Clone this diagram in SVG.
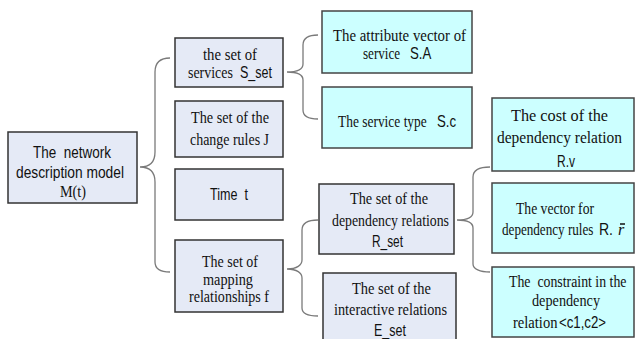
<svg xmlns="http://www.w3.org/2000/svg" width="638" height="339" viewBox="0 0 638 339">
<style>
.bg{fill:#ffffff}
.n1{fill:#e5eaf6;stroke:#333333;stroke-width:1.5}
.n2{fill:#ccffff;stroke:#444444;stroke-width:1.5}
.br{fill:none;stroke:#7a7a7a;stroke-width:1.3}
.s{font-family:"Liberation Serif","Times New Roman",serif;font-size:16px;fill:#111;white-space:pre}
.a{font-family:"Liberation Sans",Arial,sans-serif;font-size:16.5px;fill:#111;white-space:pre}
</style>
<rect class="bg" x="0" y="0" width="638" height="339"/>
<g id="connectors">
<path class="br" d="M170,58 C160,58 155,62 155,72 L155,152 C155,162 150,167 140,167 C150,167 155,172 155,182 L155,262 C155,268 160,272 170,272"/>
<path class="br" d="M318,35 C308,35 303,38 303,45 L303,64 C303,69 298,72 287,72 C298,72 303,75 303,80 L303,110 C303,116 308,119 318,119"/>
<path class="br" d="M318,220 C308,220 302,223 302,230 L302,260 C302,265 297,269 287,269 C297,269 302,273 302,278 L302,308 C302,313 308,316 318,316"/>
<path class="br" d="M490,167 C480,167 473,170 473,177 L473,212 C473,217 468,220 457,220 C468,220 473,223 473,228 L473,264 C473,269 480,272 490,272"/>
</g>
<g id="root">
<rect class="n1" x="8" y="132" width="129" height="71"/>
<text class="a" x="33" y="158" textLength="78" lengthAdjust="spacingAndGlyphs">The  network</text>
<text class="a" x="16" y="178" textLength="108" lengthAdjust="spacingAndGlyphs">description model</text>
<text class="s" x="60" y="197" textLength="26" lengthAdjust="spacingAndGlyphs">M(t)</text>
</g>
<g id="s_set">
<rect class="n1" x="175" y="38" width="108" height="49"/>
<text class="s" x="203" y="60" textLength="54" lengthAdjust="spacingAndGlyphs">the set of</text>
<text class="s" transform="translate(188,78) scale(0.87,1)">services</text>
<text class="a" transform="translate(240,78) scale(0.76,1)">S_set</text>
</g>
<g id="rules_j">
<rect class="n1" x="175" y="101" width="108" height="56"/>
<text class="s" x="191" y="123" textLength="78" lengthAdjust="spacingAndGlyphs">The set of the</text>
<text class="s" x="190" y="145" textLength="79" lengthAdjust="spacingAndGlyphs">change rules J</text>
</g>
<g id="time_t">
<rect class="n1" x="175" y="169" width="108" height="51"/>
<text class="a" x="210" y="200" textLength="38" lengthAdjust="spacingAndGlyphs">Time  t</text>
</g>
<g id="mapping_f">
<rect class="n1" x="175" y="240" width="108" height="72"/>
<text class="s" x="202" y="267" textLength="56" lengthAdjust="spacingAndGlyphs">The set of</text>
<text class="s" x="203" y="285" textLength="50" lengthAdjust="spacingAndGlyphs">mapping</text>
<text class="s" x="189" y="302" textLength="80" lengthAdjust="spacingAndGlyphs">relationships f</text>
</g>
<g id="attr_sa">
<rect class="n2" x="322" y="11" width="150" height="62"/>
<text class="s" x="333" y="41" textLength="133" lengthAdjust="spacingAndGlyphs">The attribute vector of</text>
<text class="s" transform="translate(363,59) scale(0.82,1)">service</text>
<text class="a" transform="translate(410,59) scale(0.8,1)">S.A</text>
</g>
<g id="type_sc">
<rect class="n2" x="322" y="87" width="150" height="61"/>
<text class="s" transform="translate(338,127) scale(0.84,1)">The service type</text>
<text class="a" transform="translate(437,127) scale(0.8,1)">S.c</text>
</g>
<g id="cost_rv">
<rect class="n2" x="492" y="98" width="142" height="73"/>
<text class="s" x="511" y="121" textLength="97" lengthAdjust="spacingAndGlyphs">The cost of the</text>
<text class="s" x="497" y="143" textLength="125" lengthAdjust="spacingAndGlyphs">dependency relation</text>
<text class="a" x="557" y="167" textLength="18" lengthAdjust="spacingAndGlyphs">R.v</text>
</g>
<g id="r_set">
<rect class="n1" x="319" y="184" width="135" height="70"/>
<text class="s" x="350" y="204" textLength="78" lengthAdjust="spacingAndGlyphs">The set of the</text>
<text class="s" x="332" y="226" textLength="117" lengthAdjust="spacingAndGlyphs">dependency relations</text>
<text class="a" x="372" y="247" textLength="31" lengthAdjust="spacingAndGlyphs">R_set</text>
</g>
<g id="e_set">
<rect class="n1" x="323" y="273" width="133" height="72"/>
<text class="s" x="352" y="294" textLength="79" lengthAdjust="spacingAndGlyphs">The set of the</text>
<text class="s" x="334" y="315" textLength="113" lengthAdjust="spacingAndGlyphs">interactive relations</text>
<text class="a" x="374" y="336" textLength="32" lengthAdjust="spacingAndGlyphs">E_set</text>
</g>
<g id="vector_rr">
<rect class="n2" x="492" y="183" width="142" height="70"/>
<text class="s" x="516" y="214" textLength="78" lengthAdjust="spacingAndGlyphs">The vector for</text>
<text class="s" transform="translate(502,235) scale(0.82,1)">dependency rules</text>
<text class="a" transform="translate(599,235) scale(0.85,1)">R.</text>
<text class="s" x="618" y="235" font-style="italic">r</text>
<line x1="620" y1="224" x2="625" y2="224" stroke="#111" stroke-width="1.5"/>
</g>
<g id="constraint">
<rect class="n2" x="492" y="267" width="142" height="70"/>
<text class="s" transform="translate(509,287) scale(0.865,1)">The  constraint in the</text>
<text class="s" x="532" y="306" textLength="68" lengthAdjust="spacingAndGlyphs">dependency</text>
<text class="s" transform="translate(513,328) scale(0.91,1)">relation</text>
<text class="a" transform="translate(559,328) scale(0.8,1)">&lt;c1,c2&gt;</text>
</g>
</svg>
